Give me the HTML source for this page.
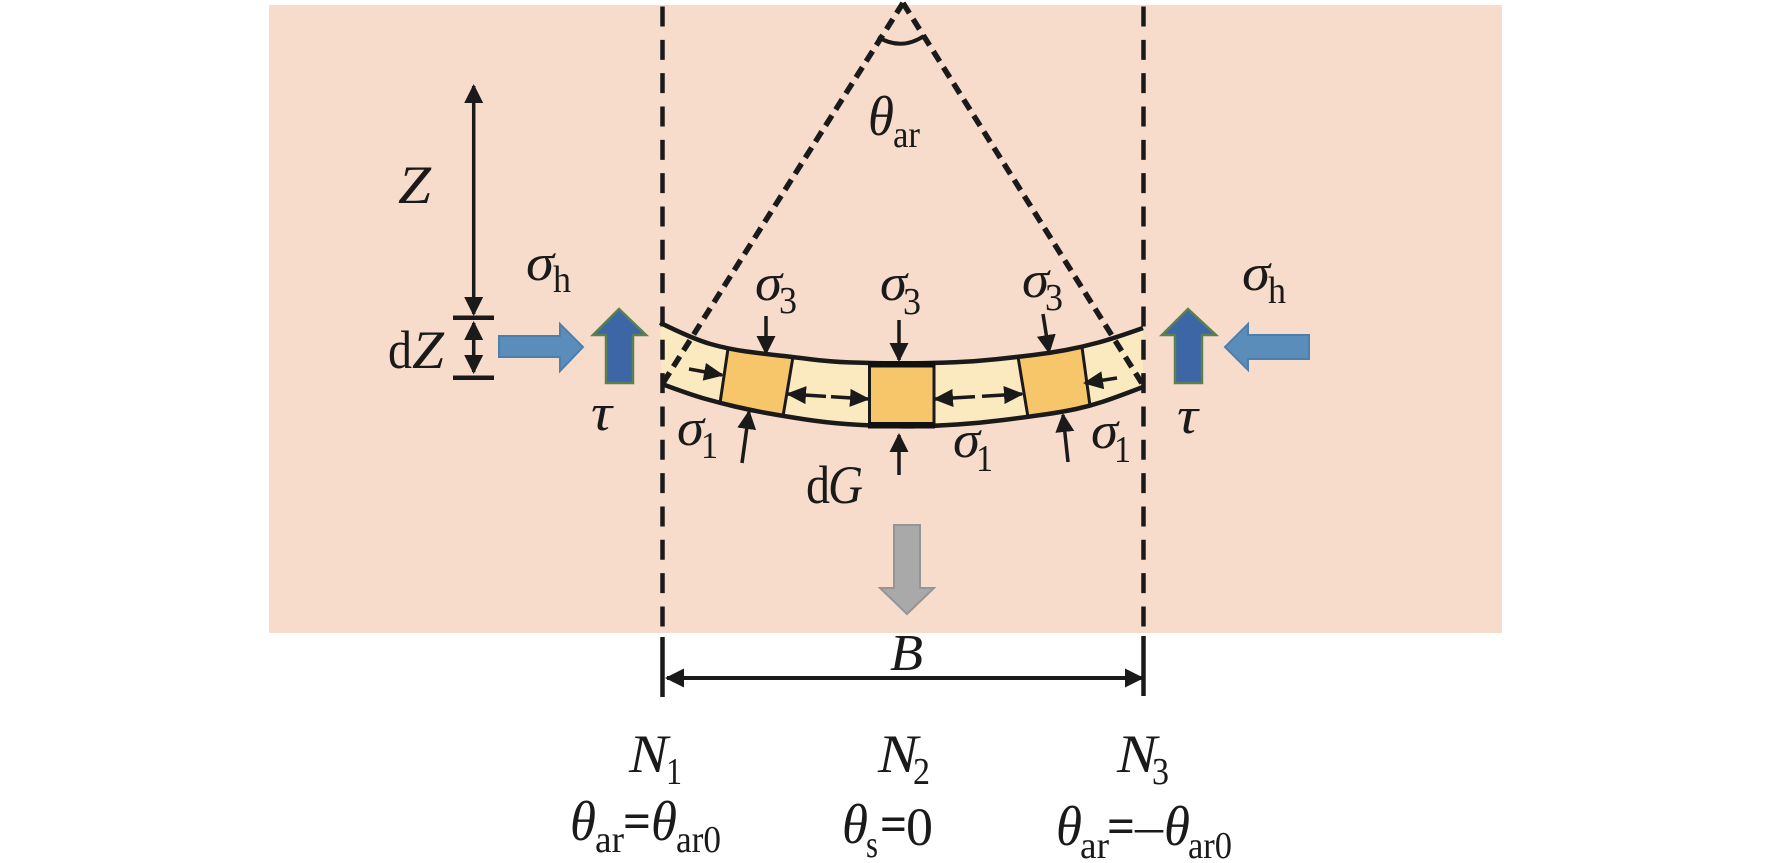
<!DOCTYPE html>
<html><head><meta charset="utf-8"><style>
html,body{margin:0;padding:0;background:#fff}
svg{display:block}
text{font-family:"Liberation Serif",serif;fill:#1a1a1a}
.i{font-style:italic;font-size:54px}
.g{font-style:italic;font-size:52px}
.t{font-style:italic;font-size:56px}
.s{font-size:38px}
.e{font-size:50px;font-weight:bold}
</style></head><body>
<svg width="1772" height="863" viewBox="0 0 1772 863" xmlns="http://www.w3.org/2000/svg">
<defs>
<marker id="h" markerUnits="userSpaceOnUse" markerWidth="20" markerHeight="20" refX="17" refY="9.500" orient="auto-start-reverse"><path d="M0 0L19 9.500L0 19Z" fill="#1a1a1a"/></marker>
<marker id="m" markerUnits="userSpaceOnUse" markerWidth="22" markerHeight="18" refX="18" refY="9" orient="auto-start-reverse"><path d="M0 0L20 9L0 18Z" fill="#1a1a1a"/></marker>
<clipPath id="band"><path d="M660 322.700Q693 339 710.500 344Q728 349 746.500 351.500Q765 354 779 355.500Q793 357 811.500 359.350Q830 361.700 849 362.350Q868 363 884 363.250Q900 363.500 917 363.250Q934 363 954.500 362.250Q975 361.500 996 359.250Q1017 357 1033.500 355Q1050 353 1066 350Q1082 347 1098.500 342.500Q1115 338 1143 328L1143 387Q1117 397 1103.500 401.500Q1090 406 1076 409Q1062 412 1044.500 414.500Q1027 417 1003.500 420Q980 423 957 424.500Q934 426 917 426.250Q900 426.500 884 426Q868 425.500 847.500 424.100Q827 422.700 805 419.350Q783 416 766.500 413Q750 410 735 406.500Q720 403 705 398.750Q690 394.500 662 384Z"/></clipPath>
</defs>
<rect x="269" y="5" width="1233" height="628" fill="#f7dccb"/>

<!-- band -->
<path d="M660 322.700Q693 339 710.500 344Q728 349 746.500 351.500Q765 354 779 355.500Q793 357 811.500 359.350Q830 361.700 849 362.350Q868 363 884 363.250Q900 363.500 917 363.250Q934 363 954.500 362.250Q975 361.500 996 359.250Q1017 357 1033.500 355Q1050 353 1066 350Q1082 347 1098.500 342.500Q1115 338 1143 328L1143 387Q1117 397 1103.500 401.500Q1090 406 1076 409Q1062 412 1044.500 414.500Q1027 417 1003.500 420Q980 423 957 424.500Q934 426 917 426.250Q900 426.500 884 426Q868 425.500 847.500 424.100Q827 422.700 805 419.350Q783 416 766.500 413Q750 410 735 406.500Q720 403 705 398.750Q690 394.500 662 384Z" fill="#fbe9c0"/>
<g clip-path="url(#band)">
<polygon points="728.700,344 793.800,352 782.200,421 719.300,408" fill="#f8c66a"/>
<rect x="869" y="360" width="65" height="70" fill="#f8c66a"/>
<polygon points="1017.200,352 1081.300,342 1090.700,411 1028.800,422" fill="#f8c66a"/>
<path d="M728.700 344L719.300 408M793.800 352L782.200 421M1017.200 352L1028.800 422M1081.300 342L1090.700 411M869.500 360V430M934 360V430" fill="none" stroke="#1a1a1a" stroke-width="3"/>
</g>
<path d="M660 322.700Q693 339 710.500 344Q728 349 746.500 351.500Q765 354 779 355.500Q793 357 811.500 359.350Q830 361.700 849 362.350Q868 363 884 363.250Q900 363.500 917 363.250Q934 363 954.500 362.250Q975 361.500 996 359.250Q1017 357 1033.500 355Q1050 353 1066 350Q1082 347 1098.500 342.500Q1115 338 1143 328" fill="none" stroke="#1a1a1a" stroke-width="4.500"/>
<path d="M662 384Q690 394.500 705 398.750Q720 403 735 406.500Q750 410 766.500 413Q783 416 805 419.350Q827 422.700 847.500 424.100Q868 425.500 884 426Q900 426.500 917 426.250Q934 426 957 424.500Q980 423 1003.500 420Q1027 417 1044.500 414.500Q1062 412 1076 409Q1090 406 1103.500 401.500Q1117 397 1143 387" fill="none" stroke="#1a1a1a" stroke-width="4.500"/>
<rect x="868" y="361" width="67" height="6.500" fill="#111"/>
<rect x="868" y="422" width="67" height="6.500" fill="#111"/>

<!-- dashed lines -->
<path d="M662.500 6.500V630M1143.500 6.500V630" fill="none" stroke="#1a1a1a" stroke-width="4.500" stroke-dasharray="20 13.330"/>
<path d="M662.500 637V697M1143.500 636V696" fill="none" stroke="#1a1a1a" stroke-width="4.500"/>
<path d="M903 3L663 383M903 3L1143 385" fill="none" stroke="#1a1a1a" stroke-width="5.500" stroke-dasharray="12 7"/>
<path d="M878 37Q901 51 924 36" fill="none" stroke="#1a1a1a" stroke-width="4"/>

<!-- small force arrows -->
<g fill="none" stroke="#1a1a1a" stroke-width="3.500">
<path d="M766 316L766 353" marker-end="url(#h)"/>
<path d="M899 320L899 360" marker-end="url(#h)"/>
<path d="M1043 314L1049 352" marker-end="url(#h)"/>
<path d="M742 463L749 412" marker-end="url(#h)"/>
<path d="M899 475L899 435" marker-end="url(#h)"/>
<path d="M1068 462L1063 415" marker-end="url(#h)"/>
<path d="M689 369L722 375" marker-end="url(#m)"/>
<path d="M1117 378L1085 383" marker-end="url(#m)"/>
<path d="M788 394L868 399" marker-start="url(#m)" marker-end="url(#m)"/>
<path d="M935 399L1022 394" marker-start="url(#m)" marker-end="url(#m)"/>
</g>
<path d="M826 396.300L831 396.600M975 396.800L982 396.400" stroke="#fbe9c0" stroke-width="6" fill="none"/>

<!-- Z / dZ -->
<g fill="none" stroke="#1a1a1a" stroke-width="3.500">
<path d="M473.700 86L473.700 314" marker-start="url(#h)" marker-end="url(#h)"/>
<path d="M473.700 323L473.700 372" marker-start="url(#h)" marker-end="url(#h)"/>
</g>
<path d="M453 317.700H494M453 377.700H494" stroke="#1a1a1a" stroke-width="4.500" fill="none"/>
<path d="M667 678L1142 678" stroke="#1a1a1a" stroke-width="4" fill="none" marker-start="url(#h)" marker-end="url(#h)"/>

<!-- block arrows -->
<path d="M499 336H560V324L583 347L560 371V357H499Z" fill="#5b8dba" stroke="#4d7fae" stroke-width="2"/>
<path d="M1309 335H1248V324L1225 347L1248 370V359H1309Z" fill="#5b8dba" stroke="#4d7fae" stroke-width="2"/>
<path d="M619 309L646 335H633V383H606V335H593Z" fill="#3d66a6" stroke="#5b8050" stroke-width="2.500"/>
<path d="M1188 309L1216 335H1202V383H1175V335H1162Z" fill="#3d66a6" stroke="#5b8050" stroke-width="2.500"/>
<path d="M894 525H920V588H934L907 614L880 588H894Z" fill="#a9a9a9" stroke="#959595" stroke-width="2"/>

<!-- labels -->
<text class="i" x="398" y="203" textLength="33" lengthAdjust="spacingAndGlyphs">Z</text>
<text x="388" y="368" style="font-size:54px" textLength="24" lengthAdjust="spacingAndGlyphs">d</text>
<text class="i" x="412" y="368" textLength="32" lengthAdjust="spacingAndGlyphs">Z</text>
<text class="g" x="526" y="280" textLength="28" lengthAdjust="spacingAndGlyphs">σ</text>
<text class="s" x="553" y="292" textLength="18" lengthAdjust="spacingAndGlyphs">h</text>
<text class="g" x="1242" y="290" textLength="28" lengthAdjust="spacingAndGlyphs">σ</text>
<text class="s" x="1268" y="303" textLength="18" lengthAdjust="spacingAndGlyphs">h</text>
<text class="g" x="591" y="430" textLength="21" lengthAdjust="spacingAndGlyphs">τ</text>
<text class="g" x="1177" y="433" textLength="21" lengthAdjust="spacingAndGlyphs">τ</text>

<text class="g" x="755" y="300" textLength="27" lengthAdjust="spacingAndGlyphs">σ</text><text class="s" x="779" y="313" textLength="18" lengthAdjust="spacingAndGlyphs">3</text>
<text class="g" x="880" y="300" textLength="27" lengthAdjust="spacingAndGlyphs">σ</text><text class="s" x="903" y="314" textLength="18" lengthAdjust="spacingAndGlyphs">3</text>
<text class="g" x="1022" y="297" textLength="27" lengthAdjust="spacingAndGlyphs">σ</text><text class="s" x="1045" y="310" textLength="18" lengthAdjust="spacingAndGlyphs">3</text>
<text class="g" x="677" y="445" textLength="27" lengthAdjust="spacingAndGlyphs">σ</text><text class="s" x="701" y="458" textLength="17" lengthAdjust="spacingAndGlyphs">1</text>
<text class="g" x="953" y="457" textLength="27" lengthAdjust="spacingAndGlyphs">σ</text><text class="s" x="976" y="471" textLength="17" lengthAdjust="spacingAndGlyphs">1</text>
<text class="g" x="1091" y="448" textLength="27" lengthAdjust="spacingAndGlyphs">σ</text><text class="s" x="1114" y="462" textLength="17" lengthAdjust="spacingAndGlyphs">1</text>

<text x="806" y="503" style="font-size:54px" textLength="24" lengthAdjust="spacingAndGlyphs">d</text>
<text class="i" x="828" y="503" textLength="35" lengthAdjust="spacingAndGlyphs">G</text>

<text class="t" x="868" y="135" textLength="26" lengthAdjust="spacingAndGlyphs">θ</text>
<text class="s" x="893" y="147" textLength="27" lengthAdjust="spacingAndGlyphs">ar</text>
<text class="g" x="890" y="670" textLength="33" lengthAdjust="spacingAndGlyphs">B</text>

<text class="i" x="629" y="772" textLength="39" lengthAdjust="spacingAndGlyphs">N</text><text class="s" x="666" y="784" textLength="16" lengthAdjust="spacingAndGlyphs">1</text>
<text class="i" x="878" y="772" textLength="40" lengthAdjust="spacingAndGlyphs">N</text><text class="s" x="913" y="784" textLength="17" lengthAdjust="spacingAndGlyphs">2</text>
<text class="i" x="1117" y="772" textLength="40" lengthAdjust="spacingAndGlyphs">N</text><text class="s" x="1152" y="784" textLength="17" lengthAdjust="spacingAndGlyphs">3</text>

<text class="t" x="570" y="840" textLength="26" lengthAdjust="spacingAndGlyphs">θ</text>
<text class="s" x="595" y="852" textLength="29" lengthAdjust="spacingAndGlyphs">ar</text>
<text class="e" x="623" y="838" textLength="28" lengthAdjust="spacingAndGlyphs">=</text>
<text class="t" x="651" y="840" textLength="26" lengthAdjust="spacingAndGlyphs">θ</text>
<text class="s" x="676" y="852" textLength="45" lengthAdjust="spacingAndGlyphs">ar0</text>

<text class="t" x="842" y="843" textLength="26" lengthAdjust="spacingAndGlyphs">θ</text>
<text class="s" x="866" y="857" textLength="12" lengthAdjust="spacingAndGlyphs">s</text>
<text class="e" x="880" y="841" textLength="27" lengthAdjust="spacingAndGlyphs">=</text>
<text x="906" y="845" style="font-size:54px" textLength="27" lengthAdjust="spacingAndGlyphs">0</text>

<text class="t" x="1056" y="845" textLength="26" lengthAdjust="spacingAndGlyphs">θ</text>
<text class="s" x="1080" y="858" textLength="29" lengthAdjust="spacingAndGlyphs">ar</text>
<text class="e" x="1107" y="843" textLength="28" lengthAdjust="spacingAndGlyphs">=</text>
<text x="1135" y="843" style="font-size:50px" textLength="28" lengthAdjust="spacingAndGlyphs">–</text>
<text class="t" x="1164" y="845" textLength="26" lengthAdjust="spacingAndGlyphs">θ</text>
<text class="s" x="1188" y="858" textLength="44" lengthAdjust="spacingAndGlyphs">ar0</text>
</svg>
</body></html>
